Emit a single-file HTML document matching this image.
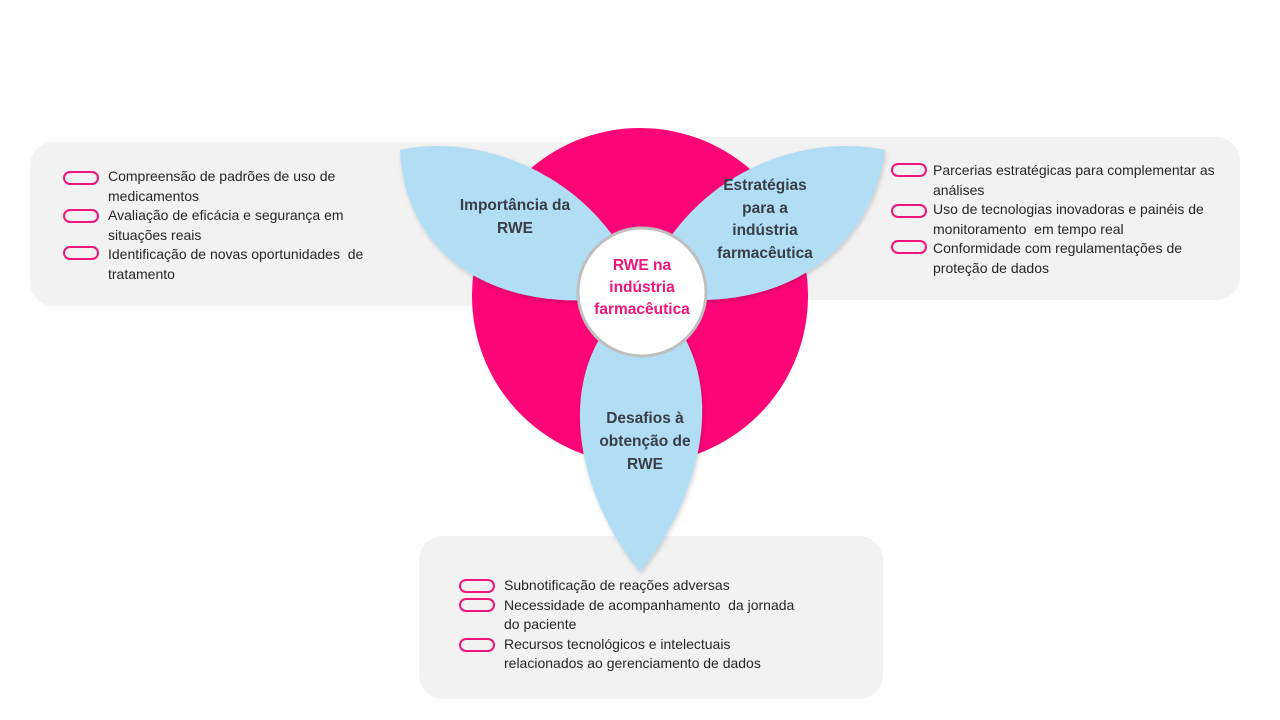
<!DOCTYPE html>
<html><head><meta charset="utf-8"><style>
body{margin:0;width:1280px;height:720px;background:#fff;position:relative;overflow:hidden;font-family:"Liberation Sans",sans-serif}
svg{position:absolute;left:0;top:0}
.t{position:absolute;font-size:14px;line-height:19.5px;color:#262626;white-space:nowrap}
.b{position:absolute;width:32px;height:10px;border:2px solid #f0157a;border-radius:7px}
.h{position:absolute;font-weight:bold;font-size:15.5px;line-height:23px;color:#3a3d45;text-align:center}
</style></head><body>
<svg width="1280" height="720">
<defs><filter id="s" x="-10%" y="-10%" width="120%" height="120%"><feDropShadow dx="1" dy="2" stdDeviation="2" flood-color="#000" flood-opacity="0.18"/></filter></defs>
<rect x="30" y="142" width="620" height="164" rx="24" fill="#f2f2f2"/>
<rect x="640" y="137" width="600" height="163" rx="24" fill="#f2f2f2"/>
<rect x="419" y="536" width="464" height="163" rx="24" fill="#f2f2f2"/>
<circle cx="640" cy="296" r="168" fill="#fe0577"/>
<path d="M400,150 C475,133 585,170 632,268 L590,300 C490,305 405,255 400,150Z" fill="#b1def5" filter="url(#s)"/>
<path d="M885,150 C805,133 700,170 652,268 L695,300 C795,302 872,245 885,150Z" fill="#b1def5" filter="url(#s)"/>
<path d="M640,572 C578,495 560,395 605,330 L680,330 C722,395 702,495 640,572Z" fill="#b1def5" filter="url(#s)"/>
<circle cx="642" cy="292" r="64" fill="#fff" stroke="#bfbfbf" stroke-width="3"/>
</svg>
<div class="h" style="left:440px;top:194px;width:150px">Importância da<br>RWE</div>
<div class="h" style="left:700px;top:175px;width:130px;line-height:22.5px">Estratégias<br>para a<br>indústria<br>farmacêutica</div>
<div class="h" style="left:570px;top:407px;width:150px">Desafios à<br>obtenção de<br>RWE</div>
<div class="h" style="left:572px;top:255px;width:140px;color:#f0157a;line-height:22px">RWE na<br>indústria<br>farmacêutica</div>

<div class="b" style="left:63px;top:171px"></div>
<div class="b" style="left:63px;top:209px"></div>
<div class="b" style="left:63px;top:246px"></div>
<div class="t" style="left:108px;top:167px">Compreensão de padrões de uso de<br>medicamentos<br>Avaliação de eficácia e segurança em<br>situações reais<br>Identificação de novas oportunidades &nbsp;de<br>tratamento</div>

<div class="b" style="left:891px;top:163px"></div>
<div class="b" style="left:891px;top:204px"></div>
<div class="b" style="left:891px;top:240px"></div>
<div class="t" style="left:933px;top:161px">Parcerias estratégicas para complementar as<br>análises<br>Uso de tecnologias inovadoras e painéis de<br>monitoramento &nbsp;em tempo real<br>Conformidade com regulamentações de<br>proteção de dados</div>

<div class="b" style="left:459px;top:579px"></div>
<div class="b" style="left:459px;top:598px"></div>
<div class="b" style="left:459px;top:638px"></div>
<div class="t" style="left:504px;top:576px">Subnotificação de reações adversas<br>Necessidade de acompanhamento &nbsp;da jornada<br>do paciente<br>Recursos tecnológicos e intelectuais<br>relacionados ao gerenciamento de dados</div>
</body></html>
